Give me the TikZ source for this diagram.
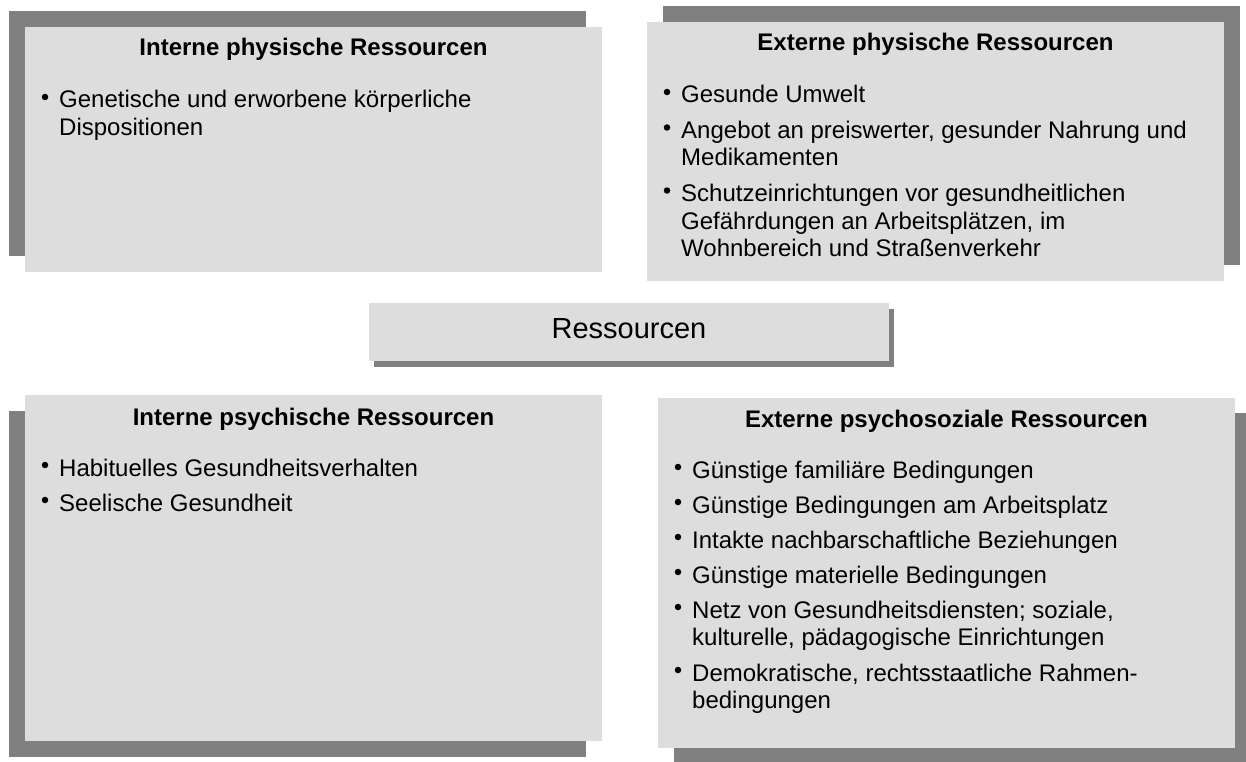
\documentclass[tikz,border=0pt]{standalone}
\usepackage{fontspec}
\setmainfont{Liberation Sans}
\usetikzlibrary{shadows}
\definecolor{panelfill}{HTML}{DDDDDD}
\definecolor{panelshade}{HTML}{808080}

% one bullet item: name, bullet x, first baseline y, text (lines split by \\)
\newcommand\bitem[4]{%
  \node[bul] (#1dot) at (#2,#3-11) {};
  \node[itm] (#1) at (#2+14,#3) {\parbox[t]{540pt}{\raggedright #4}};
}

\begin{document}
\begin{tikzpicture}[x=1pt,y=-1pt,
  panel/.style={fill=panelfill, draw=none, inner sep=0pt, outer sep=0pt, anchor=north west},
  dropbox/.style n args={2}{drop shadow={shadow xshift=#1, shadow yshift=#2, opacity=1, fill=panelshade}},
  title/.style={anchor=base, inner sep=0pt, font=\bfseries\fontsize{24}{27.5}\selectfont},
  itm/.style={anchor=base west, inner sep=0pt, font=\fontsize{24}{27.5}\selectfont},
  bul/.style={circle, fill=black, inner sep=0pt, minimum size=6.5pt},
  centre/.style={anchor=base, inner sep=0pt, font=\fontsize{29}{33}\selectfont}]

\useasboundingbox (0,0) rectangle (1246,762);
\fill[white] (0,0) rectangle (1246,762);

% four panels with offset shadows, plus the central label box
\node[panel, minimum width=577pt, minimum height=245pt, dropbox={-16pt}{16pt}] (p1) at (25,27) {};
\node[panel, minimum width=577pt, minimum height=259pt, dropbox={16pt}{16pt}] (p2) at (647,22) {};
\node[panel, minimum width=577pt, minimum height=346pt, dropbox={-16pt}{-16pt}] (p3) at (25,395) {};
\node[panel, minimum width=577pt, minimum height=350pt, dropbox={16pt}{-15pt}] (p4) at (658,398) {};
\node[panel, minimum width=520pt, minimum height=58pt, dropbox={5pt}{-6pt}] (pc) at (369,303) {};

\node[centre] (rc) at (629,338) {Ressourcen};

% upper left
\node[title] (t1) at (313.5,56) {Interne physische Ressourcen};
\bitem{a1}{45}{108}{Genetische und erworbene körperliche\\ Dispositionen}

% upper right
\node[title] (t2) at (935.5,51) {Externe physische Ressourcen};
\bitem{b1}{667}{103}{Gesunde Umwelt}
\bitem{b2}{667}{138.5}{Angebot an preiswerter, gesunder Nahrung und\\ Medikamenten}
\bitem{b3}{667}{201.5}{Schutzeinrichtungen vor gesundheitlichen\\ Gefährdungen an Arbeitsplätzen, im\\ Wohnbereich und Straßenverkehr}

% lower left
\node[title] (t3) at (313.5,425) {Interne psychische Ressourcen};
\bitem{c1}{45}{476}{Habituelles Gesundheitsverhalten}
\bitem{c2}{45}{511}{Seelische Gesundheit}

% lower right
\node[title] (t4) at (946.5,427) {Externe psychosoziale Ressourcen};
\bitem{d1}{678}{478}{Günstige familiäre Bedingungen}
\bitem{d2}{678}{513}{Günstige Bedingungen am Arbeitsplatz}
\bitem{d3}{678}{548}{Intakte nachbarschaftliche Beziehungen}
\bitem{d4}{678}{583}{Günstige materielle Bedingungen}
\bitem{d5}{678}{618}{Netz von Gesundheitsdiensten; soziale,\\ kulturelle, pädagogische Einrichtungen}
\bitem{d6}{678}{681}{Demokratische, rechtsstaatliche Rahmen-\\ bedingungen}
\end{tikzpicture}
\end{document}
